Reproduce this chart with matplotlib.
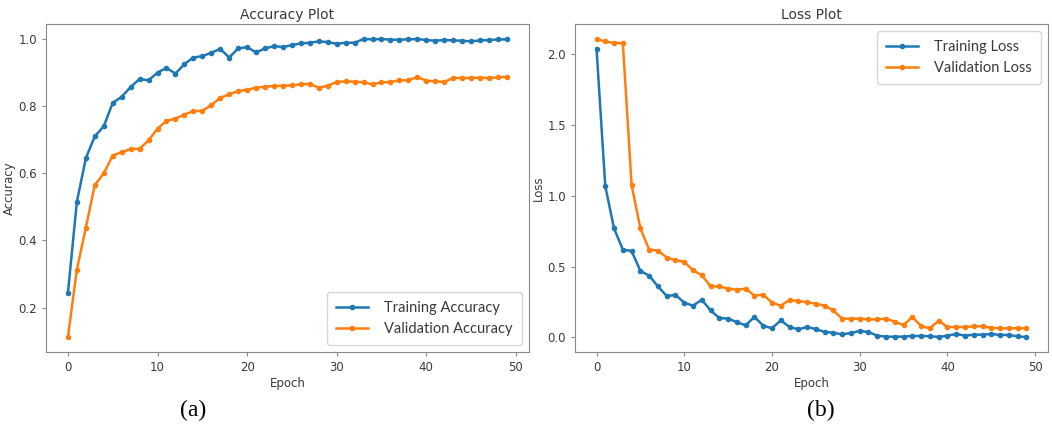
import numpy as np
import matplotlib
matplotlib.use('Agg')
import matplotlib.pyplot as plt

epochs = np.arange(50)

train_acc = [0.244, 0.515, 0.645, 0.71, 0.74, 0.81, 0.828, 0.857, 0.881, 0.877,
             0.90, 0.914, 0.897, 0.925, 0.945, 0.949, 0.959, 0.971, 0.945, 0.972,
             0.976, 0.96, 0.972, 0.979, 0.976, 0.982, 0.987, 0.989, 0.993, 0.991,
             0.986, 0.989, 0.989, 1.0, 0.999, 1.0, 0.998, 0.998, 0.999, 1.0,
             0.997, 0.995, 0.997, 0.996, 0.995, 0.993, 0.996, 0.997, 0.999, 0.999]
val_acc = [0.112, 0.313, 0.438, 0.565, 0.60, 0.653, 0.663, 0.672, 0.673, 0.698,
           0.733, 0.756, 0.763, 0.775, 0.785, 0.786, 0.803, 0.825, 0.835, 0.845,
           0.849, 0.855, 0.858, 0.86, 0.861, 0.862, 0.865, 0.866, 0.855, 0.861,
           0.872, 0.874, 0.873, 0.871, 0.865, 0.871, 0.872, 0.877, 0.877, 0.887,
           0.876, 0.874, 0.872, 0.884, 0.884, 0.884, 0.885, 0.884, 0.886, 0.887]

train_loss = [2.04, 1.067, 0.769, 0.62, 0.61, 0.469, 0.436, 0.36, 0.292, 0.30,
              0.245, 0.224, 0.266, 0.19, 0.137, 0.132, 0.108, 0.085, 0.144, 0.083,
              0.064, 0.12, 0.073, 0.057, 0.073, 0.059, 0.038, 0.033, 0.021, 0.031,
              0.045, 0.038, 0.012, 0.005, 0.005, 0.005, 0.01, 0.01, 0.008, 0.003,
              0.012, 0.024, 0.012, 0.019, 0.019, 0.024, 0.017, 0.017, 0.007, 0.002]
val_loss = [2.107, 2.09, 2.079, 2.079, 1.075, 0.769, 0.62, 0.613, 0.564, 0.545,
            0.533, 0.474, 0.439, 0.36, 0.36, 0.344, 0.337, 0.344, 0.295, 0.302,
            0.245, 0.224, 0.264, 0.257, 0.248, 0.238, 0.224, 0.19, 0.132, 0.132,
            0.132, 0.127, 0.127, 0.132, 0.111, 0.087, 0.144, 0.08, 0.064, 0.118,
            0.073, 0.073, 0.073, 0.078, 0.078, 0.068, 0.064, 0.064, 0.064, 0.064]

txt = '#3a3a3a'
spine = '#8a8a8a'

fig = plt.figure(figsize=(10.52, 4.28), dpi=100)
ax1 = fig.add_axes([0.0437, 0.1776, 0.459, 0.766])
ax2 = fig.add_axes([0.5466, 0.1776, 0.4495, 0.766])

def style(ax, title, ylabel):
    ax.set_title(title, fontsize=10, color=txt, pad=4)
    ax.set_xlabel('Epoch', fontsize=8.5, color=txt, labelpad=2)
    ax.set_ylabel(ylabel, fontsize=8.5, color=txt, labelpad=2)
    ax.tick_params(labelsize=8.5, colors=txt, color=spine, length=3)
    for s in ax.spines.values():
        s.set_color(spine)

def legend(ax, loc):
    leg = ax.legend(loc=loc, prop={'family': 'Lato', 'size': 10.5},
                    handlelength=2.2, handletextpad=1.1, borderpad=0.6)
    for t in leg.get_texts():
        t.set_color(txt)

ax1.plot(epochs, train_acc, marker='o', markersize=3, lw=1.8, color='#1f77b4', label='Training Accuracy')
ax1.plot(epochs, val_acc, marker='o', markersize=3, lw=1.8, color='#ff7f0e', label='Validation Accuracy')
style(ax1, 'Accuracy Plot', 'Accuracy')
ax1.set_yticks([0.2, 0.4, 0.6, 0.8, 1.0])
legend(ax1, 'lower right')

ax2.plot(epochs, train_loss, marker='o', markersize=3, lw=1.8, color='#1f77b4', label='Training Loss')
ax2.plot(epochs, val_loss, marker='o', markersize=3, lw=1.8, color='#ff7f0e', label='Validation Loss')
style(ax2, 'Loss Plot', 'Loss')
ax2.set_yticks([0.0, 0.5, 1.0, 1.5, 2.0])
legend(ax2, 'upper right')

fig.text(0.184, 0.042, '(a)', fontsize=17, family='Liberation Serif', ha='center', va='center')
fig.text(0.78, 0.042, '(b)', fontsize=17, family='Liberation Serif', ha='center', va='center')

fig.savefig('out.png', dpi=100)
